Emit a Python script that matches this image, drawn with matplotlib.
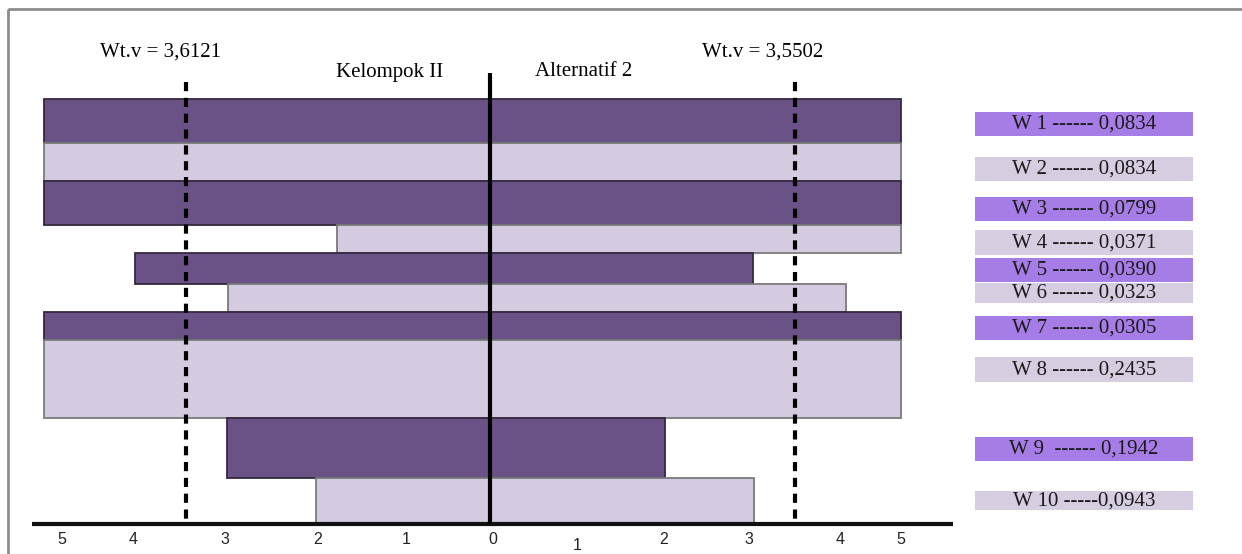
import matplotlib
matplotlib.use("Agg")
import matplotlib.pyplot as plt
from matplotlib.patches import Rectangle

# ---------------- data ----------------
criteria = ["W 1", "W 2", "W 3", "W 4", "W 5", "W 6", "W 7", "W 8", "W 9", "W 10"]
weights = ["0,0834", "0,0834", "0,0799", "0,0371", "0,0390", "0,0323", "0,0305", "0,2435", "0,1942", "0,0943"]
kelompok_ii = [5.1, 5.1, 5.1, 1.75, 4.06, 2.99, 5.1, 5.1, 3.01, 1.99]   # left side
alternatif_2 = [4.7, 4.7, 4.7, 4.7, 3.01, 4.07, 4.7, 4.7, 2.0, 3.02]    # right side
wtv_left = 3.47
wtv_right = 3.48
wtv_left_label = "Wt.v = 3,6121"
wtv_right_label = "Wt.v = 3,5502"
tick_labels = ["5", "4", "3", "2", "1", "0", "1", "2", "3", "4", "5"]
left_title = "Kelompok II"
right_title = "Alternatif 2"

# ---------------- layout ----------------
W, H = 1242, 554
PX_UNIT = 87.5
CX = 490
bar_edges = [99, 143, 181, 225, 253, 284, 312, 340, 418, 478, 523]   # pixel rows
tick_pos = [-4.89, -4.08, -3.03, -1.97, -0.96, 0.03, 1.0, 1.98, 2.96, 4.0, 4.69]
tick_dy = [0, 0, 0, 0, 0, 0, 5, 0, 0, 0, 0]
box_rows = [(112, 136), (157, 181), (197, 221), (230, 255), (258, 282),
            (283, 303), (316, 340), (357, 382), (437, 461), (491, 510)]

dark = "#6a5287"
light = "#d4cbe0"
dark_edge = "#35283f"
light_edge = "#7a7a7a"
box_dark = "#a67de6"
box_light = "#d6cde1"

fig = plt.figure(figsize=(W / 100, H / 100), dpi=100)
ax = fig.add_axes([0, 0, 1, 1])
ax.set_xlim(-CX / PX_UNIT, (W - CX) / PX_UNIT)
ax.set_ylim(H, 0)
ax.axis("off")

def px(x):
    return (x - CX) / PX_UNIT

serif = "Liberation Serif"
FS = 15

# page border
ax.add_patch(Rectangle((px(8), 9), px(1260) - px(8), 600, fill=False,
                       edgecolor="#8c8c8c", linewidth=2, zorder=1))

# bars
for i in range(len(criteria)):
    top, bot = bar_edges[i], bar_edges[i + 1]
    col = dark if i % 2 == 0 else light
    ec = dark_edge if i % 2 == 0 else light_edge
    ax.barh((top + bot) / 2, kelompok_ii[i] + alternatif_2[i], height=bot - top,
            left=-kelompok_ii[i], color=col, edgecolor=ec, linewidth=1.3, zorder=2)

# axis line
ax.plot([px(32), px(953)], [524, 524], color="#111111", linewidth=3, zorder=4,
        solid_capstyle="butt")

# center line
ax.plot([0, 0], [73, 524], color="black", linewidth=3, zorder=5, solid_capstyle="butt")

# Wt.v dashed lines
for xv in (-wtv_left, wtv_right):
    ax.plot([xv, xv], [82, 521], color="black", linewidth=3, linestyle=(0, (2.2, 1.6)),
            zorder=5)

ax.text(px(161), 52, wtv_left_label, family=serif, fontsize=FS, ha="center", va="center")
ax.text(px(763), 52, wtv_right_label, family=serif, fontsize=FS, ha="center", va="center")
ax.text(px(390), 72, left_title, family=serif, fontsize=FS, ha="center", va="center")
ax.text(px(584), 72, right_title, family=serif, fontsize=FS, ha="center", va="center")

# tick labels
for t, lab, dy in zip(tick_pos, tick_labels, tick_dy):
    ax.text(t, 540 + dy, lab, family="Liberation Sans", fontsize=11.5, ha="center",
            va="center", color="#222222")

# weight boxes
for i, (top, bot) in enumerate(box_rows):
    col = box_dark if i % 2 == 0 else box_light
    ax.add_patch(Rectangle((px(975), top), px(1193) - px(975), bot - top,
                           facecolor=col, edgecolor="none", zorder=2))
    if criteria[i] == "W 10":
        label = f"{criteria[i]} -----{weights[i]}"
    elif criteria[i] == "W 9":
        label = f"{criteria[i]}  ------ {weights[i]}"
    else:
        label = f"{criteria[i]} ------ {weights[i]}"
    ax.text(px(1084), (top + bot) / 2 + 0.5, label, family=serif, fontsize=FS,
            ha="center", va="center", color="#1a1a1a", zorder=3)

fig.savefig("out.png", dpi=100)
